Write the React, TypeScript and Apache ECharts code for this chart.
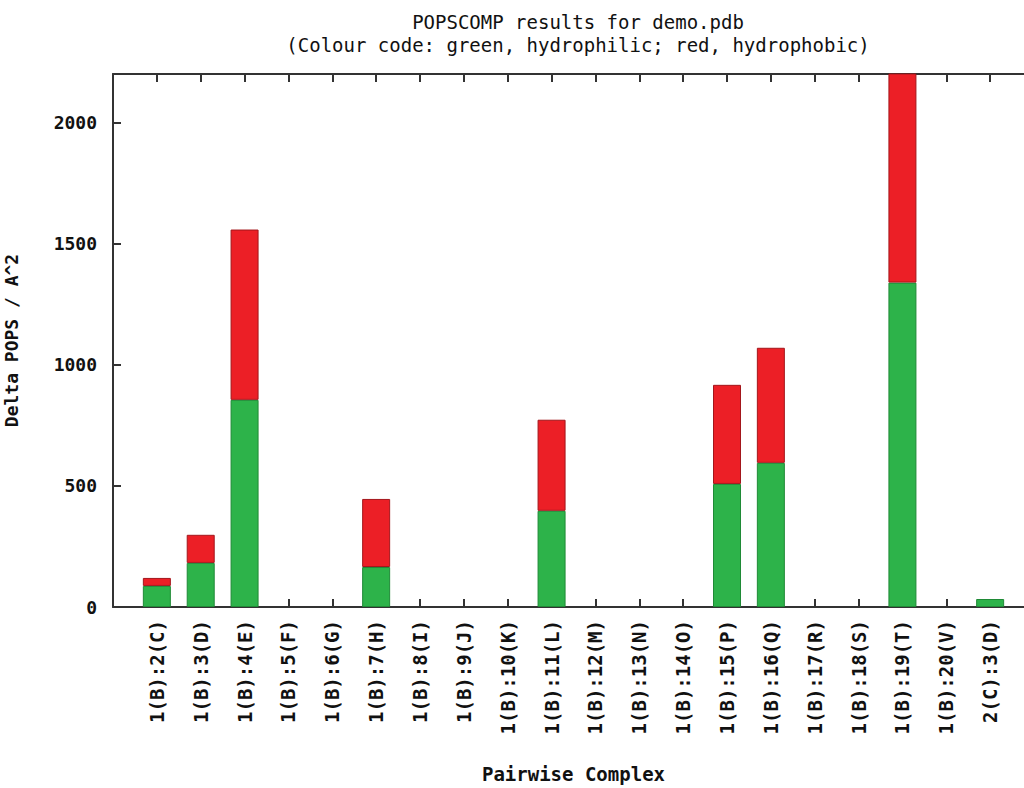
import React, { useEffect, useRef } from "react";
import * as echarts from "echarts";

const categories = [
  "1(B):2(C)", "1(B):3(D)", "1(B):4(E)", "1(B):5(F)", "1(B):6(G)",
  "1(B):7(H)", "1(B):8(I)", "1(B):9(J)", "1(B):10(K)", "1(B):11(L)",
  "1(B):12(M)", "1(B):13(N)", "1(B):14(O)", "1(B):15(P)", "1(B):16(Q)",
  "1(B):17(R)", "1(B):18(S)", "1(B):19(T)", "1(B):20(V)", "2(C):3(D)",
];
const hydrophilic = [87, 182, 855, 0, 0, 165, 0, 0, 0, 397, 0, 0, 0, 508, 595, 0, 0, 1339, 0, 33];
const hydrophobic = [33, 116, 703, 0, 0, 281, 0, 0, 0, 376, 0, 0, 0, 409, 475, 0, 0, 880, 0, 0];
const yTicks = [0, 500, 1000, 1500, 2000];

const FONT = "DejaVu Sans Mono";
const AXIS = "#333333";

// padded category list: one empty slot on each side (gnuplot xrange -1 .. n)
const padLeft = " ";
const padRight = "  ";
const axisCats = [padLeft, ...categories, padRight];
const pad = (arr: number[]) => ["-", ...arr.map((v) => (v > 0 ? v : "-")), "-"];

export default function App() {
  const ref = useRef<HTMLDivElement>(null);
  useEffect(() => {
    if (!ref.current) return;
    const chart = echarts.init(ref.current, undefined, { renderer: "svg" });
    const tick = () => ({ show: true, inside: true, length: 8, lineStyle: { color: AXIS, width: 2 } });
    const line = () => ({ show: true, onZero: false, lineStyle: { color: AXIS, width: 2 } });
    chart.setOption({
      animation: false,
      backgroundColor: "#ffffff",
      title: {
        text: "POPSCOMP results for demo.pdb\n(Colour code: green, hydrophilic; red, hydrophobic)",
        left: 573,
        top: 5,
        textAlign: "center",
        textStyle: { fontFamily: FONT, fontSize: 19, fontWeight: "normal", color: "#111", lineHeight: 23 },
      },
      grid: { left: 113, top: 74, width: 921, height: 533, containLabel: false, outerBoundsMode: "none" },
      xAxis: [
        {
          type: "category",
          data: axisCats,
          boundaryGap: false,
          position: "bottom",
          axisLine: line(),
          axisTick: { ...tick(), interval: 0 },
          splitLine: { show: false },
          axisLabel: {
            interval: 0,
            rotate: 90,
            margin: 13,
            fontFamily: FONT,
            fontSize: 19,
            fontWeight: "bold",
            color: "#111",
            formatter: (v: string) => (v.trim() === "" ? "" : v),
          },
          name: "Pairwise Complex",
          nameLocation: "middle",
          nameGap: 157,
          nameTextStyle: { fontFamily: FONT, fontSize: 19, fontWeight: "bold", color: "#111" },
        },
        {
          type: "category",
          data: axisCats,
          boundaryGap: false,
          position: "top",
          axisLine: line(),
          axisTick: { ...tick(), interval: 0 },
          splitLine: { show: false },
          axisLabel: { show: false },
        },
      ],
      yAxis: [
        {
          type: "value",
          min: 0,
          max: 2200,
          interval: 500,
          position: "left",
          axisLine: line(),
          axisTick: tick(),
          splitLine: { show: false },
          axisLabel: {
            margin: 16,
            fontFamily: FONT,
            fontSize: 18,
            fontWeight: "bold",
            color: "#111",
            showMaxLabel: false,
            formatter: (v: number) => (yTicks.includes(v) ? String(v) : ""),
          },
          name: "Delta POPS / A^2",
          nameLocation: "middle",
          nameGap: 93,
          nameTextStyle: { fontFamily: FONT, fontSize: 18, fontWeight: "bold", color: "#111" },
        },
        {
          type: "value",
          min: 0,
          max: 2200,
          interval: 500,
          position: "right",
          axisLine: line(),
          axisTick: tick(),
          splitLine: { show: false },
          axisLabel: { show: false },
        },
      ],
      series: [
        {
          name: "hydrophilic",
          type: "bar",
          stack: "total",
          barWidth: 28,
          clip: true,
          itemStyle: { color: "#2db34a", borderColor: "#1f8a36", borderWidth: 1 },
          data: pad(hydrophilic),
        },
        {
          name: "hydrophobic",
          type: "bar",
          stack: "total",
          barWidth: 28,
          clip: true,
          itemStyle: { color: "#ec1f26", borderColor: "#a3161b", borderWidth: 1 },
          data: pad(hydrophobic),
        },
      ],
    });
    return () => chart.dispose();
  }, []);
  return <div ref={ref} style={{ position: "fixed", left: 0, top: 0, width: 1024, height: 788 }} />;
}
